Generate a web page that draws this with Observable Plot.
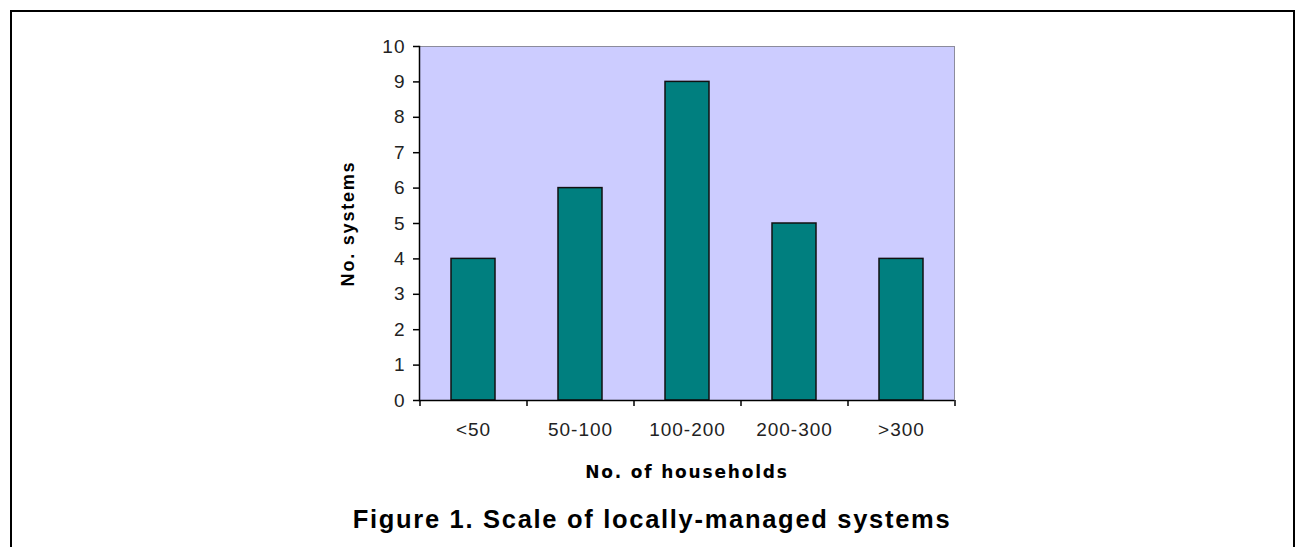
<!DOCTYPE html>
<html>
<head>
<meta charset="utf-8">
<script src="https://cdn.jsdelivr.net/npm/d3@7"></script>
<script src="https://cdn.jsdelivr.net/npm/@observablehq/plot@0.6"></script>
<style>
  html, body { margin: 0; padding: 0; background: #fff; width: 1300px; height: 547px; overflow: hidden; }
  #border { position: absolute; left: 10px; top: 10px; width: 1281px; height: 600px; border: 2px solid #000; box-sizing: content-box; }
  #chart { position: absolute; left: 0; top: 0; }
  #caption { position: absolute; left: 0; width: 1304px; top: 507px; text-align: center;
             font-family: "Liberation Sans", Arial, sans-serif; font-weight: bold; font-size: 25.5px;
             line-height: 1; letter-spacing: 1.7px; color: #000; }
</style>
</head>
<body>
<div id="border"></div>
<div id="chart"></div>
<div id="caption"></div>
<script>
const categories = ["<50", "50-100", "100-200", "200-300", ">300"];
const counts = [4, 6, 9, 5, 4];
const yTicks = [0, 1, 2, 3, 4, 5, 6, 7, 8, 9, 10];
const xTitle = "No. of households";
const yTitle = "No. systems";
const captionText = "Figure 1. Scale of locally-managed systems";

const data = categories.map((c, i) => ({cat: c, n: counts[i]}));

const plot = Plot.plot({
  width: 1300,
  height: 500,
  marginLeft: 419,
  marginRight: 346,
  marginTop: 46,
  marginBottom: 100,
  style: {fontFamily: "'Liberation Sans', Arial, sans-serif", fontSize: "19px", color: "#000", background: "transparent", overflow: "visible"},
  x: {domain: categories, paddingInner: 0.59, paddingOuter: 0.295, label: null},
  y: {domain: [0, 10], label: null},
  marks: [
    Plot.frame({fill: "#CCCCFF", stroke: "#8c8c9c", strokeWidth: 1}),
    Plot.barY(data, {x: "cat", y: "n", fill: "#007F7F", stroke: "#111", strokeWidth: 1.5}),
    Plot.frame({anchor: "left", stroke: "#000", strokeWidth: 1.5}),
    Plot.ruleY([0], {stroke: "#000", strokeWidth: 1.5}),
    Plot.axisY({ticks: yTicks, tickSize: 6, tickPadding: 8, tickFormat: d => String(d), stroke: "#000", strokeWidth: 1.5, fill: "#222", fontSize: 19, label: null}),
    Plot.axisX({tickSize: 0, tickPadding: 22, fill: "#222", fontSize: 19, label: null}),
    Plot.axisX({tickSize: 6, text: null, dx: -53.5, stroke: "#000", strokeWidth: 1.5, label: null}),
    Plot.axisX({ticks: [categories[categories.length - 1]], tickSize: 6, text: null, dx: 53.5, stroke: "#000", strokeWidth: 1.5, label: null}),
    Plot.text([xTitle], {frameAnchor: "bottom", dy: 77, text: d => d, fontWeight: "bold", fontSize: 17, fontFamily: "'DejaVu Sans', sans-serif", fill: "#000"}),
    Plot.text([yTitle], {frameAnchor: "left", dx: -71, rotate: -90, textAnchor: "middle", text: d => d, fontWeight: "bold", fontSize: 18, fontFamily: "'Liberation Sans', Arial, sans-serif", fill: "#000"})
  ]
});
document.getElementById("chart").appendChild(plot);
d3.select(plot).selectAll("[aria-label='y-axis tick label'] text, [aria-label='x-axis tick label'] text").style("letter-spacing", "1px");
d3.select(plot).selectAll("[aria-label='text'] text").style("letter-spacing", "1.8px");
document.getElementById("caption").textContent = captionText;
</script>
</body>
</html>
